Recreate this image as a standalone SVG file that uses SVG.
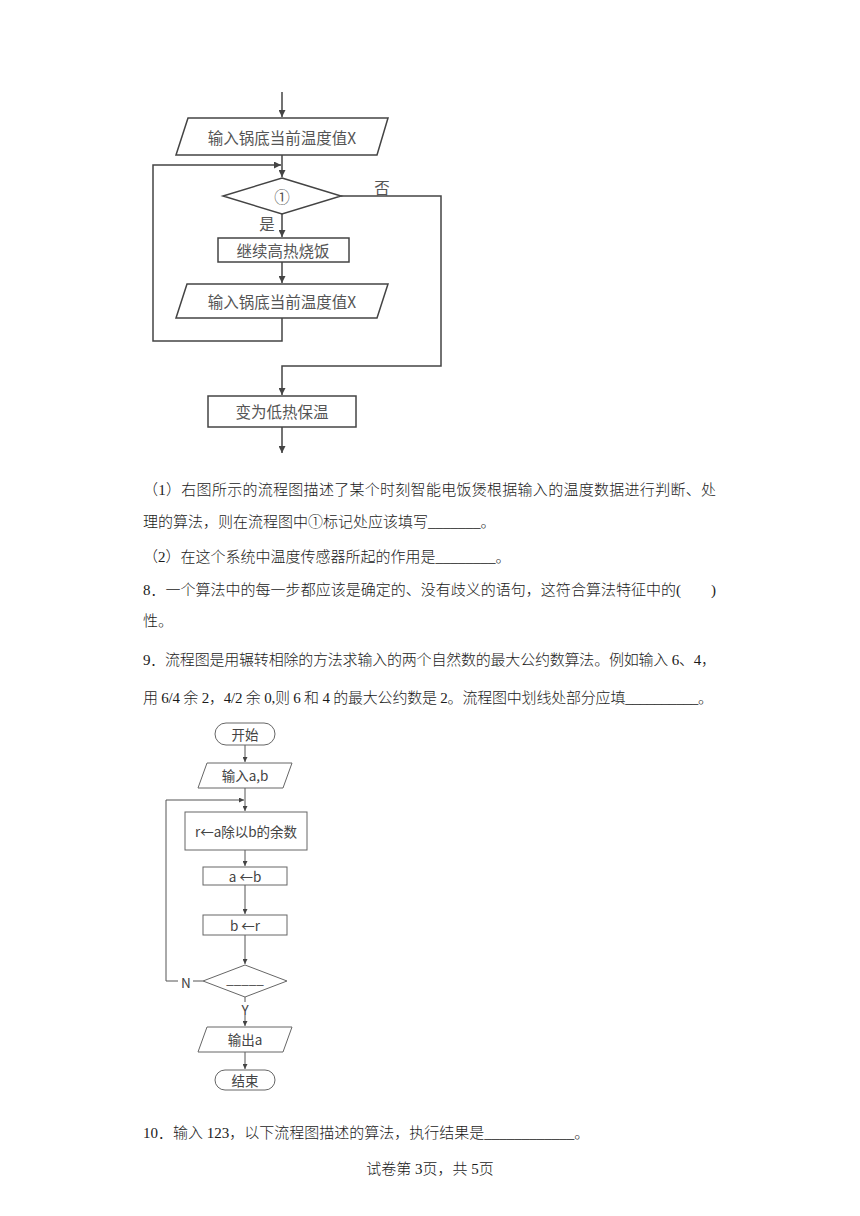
<svg xmlns="http://www.w3.org/2000/svg" width="860" height="1216" viewBox="0 0 860 1216">
<style>
.f1 { fill: #fff; stroke: #444; stroke-width: 1.5; }
.c1 { fill: none; stroke: #444; stroke-width: 1.5; }
.t1 { font-family: "Noto Sans CJK SC", sans-serif; font-size: 15.5px; fill: #555; text-anchor: middle; dominant-baseline: central; }
.f2 { fill: #fff; stroke: #666; stroke-width: 1; }
.c2 { fill: none; stroke: #555; stroke-width: 1; }
.t2 { font-family: "Noto Sans CJK SC", sans-serif; font-size: 13.5px; fill: #444; text-anchor: middle; dominant-baseline: central; }
.p { font-family: "Liberation Serif", "Noto Sans CJK SC", serif; font-size: 15px; font-weight: 300; fill: #1a1a1a; }
</style>
<defs>
<marker id="a1" viewBox="0 0 10 10" refX="10" refY="5" markerWidth="7" markerHeight="7" markerUnits="userSpaceOnUse" orient="auto"><path d="M0,0 L10,5 L0,10 z" fill="#444"/></marker>
<marker id="a2" viewBox="0 0 10 10" refX="10" refY="5" markerWidth="5" markerHeight="5" markerUnits="userSpaceOnUse" orient="auto"><path d="M0,0 L10,5 L0,10 z" fill="#444"/></marker>
</defs>
<rect width="860" height="1216" fill="#fff"/>

<!-- Flowchart 1 connectors -->
<g id="connectors1">
<line class="c1" x1="282" y1="92" x2="282" y2="117" marker-end="url(#a1)"/>
<line class="c1" x1="282" y1="155" x2="282" y2="177" marker-end="url(#a1)"/>
<polyline class="c1" points="282,318 282,341 153,341 153,165 281,165" marker-end="url(#a1)"/>
<line class="c1" x1="282" y1="214" x2="282" y2="237" marker-end="url(#a1)"/>
<line class="c1" x1="282" y1="262" x2="282" y2="283" marker-end="url(#a1)"/>
<polyline class="c1" points="341,196 441,196 441,366 282,366 282,395" marker-end="url(#a1)"/>
<line class="c1" x1="282" y1="427" x2="282" y2="453" marker-end="url(#a1)"/>
<text class="t1" x="382" y="187">否</text>
<text class="t1" x="267" y="223">是</text>
</g>
<g id="n1-input1">
<polygon class="f1" points="188,118 388,118 377,155 176,155"/>
<text class="t1" x="282" y="137">输入锅底当前温度值X</text>
</g>
<g id="n1-decision">
<polygon class="f1" points="282,178 341,196 282,214 223,196"/>
<text class="t1" x="282" y="196">①</text>
</g>
<g id="n1-heat">
<rect class="f1" x="218" y="238" width="131" height="24"/>
<text class="t1" x="283" y="250">继续高热烧饭</text>
</g>
<g id="n1-input2">
<polygon class="f1" points="187,284 388,284 377,318 176,318"/>
<text class="t1" x="282" y="301">输入锅底当前温度值X</text>
</g>
<g id="n1-low">
<rect class="f1" x="208" y="396" width="148" height="31"/>
<text class="t1" x="282" y="411">变为低热保温</text>
</g>

<!-- Paragraphs -->
<text class="p" x="143" y="495" textLength="573" lengthAdjust="spacing">（1）右图所示的流程图描述了某个时刻智能电饭煲根据输入的温度数据进行判断、处</text>
<text class="p" x="143" y="527">理的算法，则在流程图中①标记处应该填写_______。</text>
<text class="p" x="143" y="562">（2）在这个系统中温度传感器所起的作用是________。</text>
<text class="p" x="143" y="595" textLength="573" lengthAdjust="spacing">8．一个算法中的每一步都应该是确定的、没有歧义的语句，这符合算法特征中的(　　)</text>
<text class="p" x="143" y="626">性。</text>
<text class="p" x="143" y="665" textLength="573" lengthAdjust="spacing">9．流程图是用辗转相除的方法求输入的两个自然数的最大公约数算法。例如输入 6、4，</text>
<text class="p" x="143" y="703" textLength="570" lengthAdjust="spacing">用 6/4 余 2，4/2 余 0,则 6 和 4 的最大公约数是 2。流程图中划线处部分应填__________。</text>

<!-- Flowchart 2 connectors -->
<g id="connectors2">
<line class="c2" x1="245" y1="745" x2="245" y2="762" marker-end="url(#a2)"/>
<line class="c2" x1="245" y1="788" x2="245" y2="811" marker-end="url(#a2)"/>
<polyline class="c2" points="178,981 166,981 166,800 244,800" marker-end="url(#a2)"/>
<line class="c2" x1="245" y1="850" x2="245" y2="866" marker-end="url(#a2)"/>
<line class="c2" x1="245" y1="885" x2="245" y2="914" marker-end="url(#a2)"/>
<line class="c2" x1="245" y1="935" x2="245" y2="964" marker-end="url(#a2)"/>
<line class="c2" x1="203" y1="981" x2="193" y2="981"/>
<line class="c2" x1="245" y1="997" x2="245" y2="1002"/>
<line class="c2" x1="245" y1="1015" x2="245" y2="1026" marker-end="url(#a2)"/>
<line class="c2" x1="245" y1="1052" x2="245" y2="1069" marker-end="url(#a2)"/>
<text class="t2" x="186" y="982" font-family="Liberation Sans, sans-serif">N</text>
<text class="t2" x="245" y="1009" font-family="Liberation Sans, sans-serif">Y</text>
</g>
<g id="n2-start">
<rect class="f2" x="215" y="723" width="60" height="22" rx="11"/>
<text class="t2" x="245" y="734">开始</text>
</g>
<g id="n2-input">
<polygon class="f2" points="207,763 292,763 283,788 198,788"/>
<text class="t2" x="245" y="775">输入a,b</text>
</g>
<g id="n2-mod">
<rect class="f2" x="185" y="812" width="122" height="38"/>
<text class="t2" x="246" y="831">r←a除以b的余数</text>
</g>
<g id="n2-ab">
<rect class="f2" x="203" y="867" width="84" height="18"/>
<text class="t2" x="245" y="876">a ←b</text>
</g>
<g id="n2-br">
<rect class="f2" x="203" y="915" width="84" height="20"/>
<text class="t2" x="245" y="925">b ←r</text>
</g>
<g id="n2-decision">
<polygon class="f2" points="245,965 287,981 245,997 203,981"/>
<text class="t2" x="245" y="978" font-family="Liberation Sans, sans-serif" font-size="11px">_____</text>
</g>
<g id="n2-output">
<polygon class="f2" points="207,1027 292,1027 283,1052 198,1052"/>
<text class="t2" x="245" y="1039">输出a</text>
</g>
<g id="n2-end">
<rect class="f2" x="215" y="1070" width="60" height="20" rx="10"/>
<text class="t2" x="245" y="1080">结束</text>
</g>

<text class="p" x="143" y="1138">10．输入 123，以下流程图描述的算法，执行结果是____________。</text>
<text class="p" x="430" y="1174" text-anchor="middle">试卷第 3页，共 5页</text>
</svg>
